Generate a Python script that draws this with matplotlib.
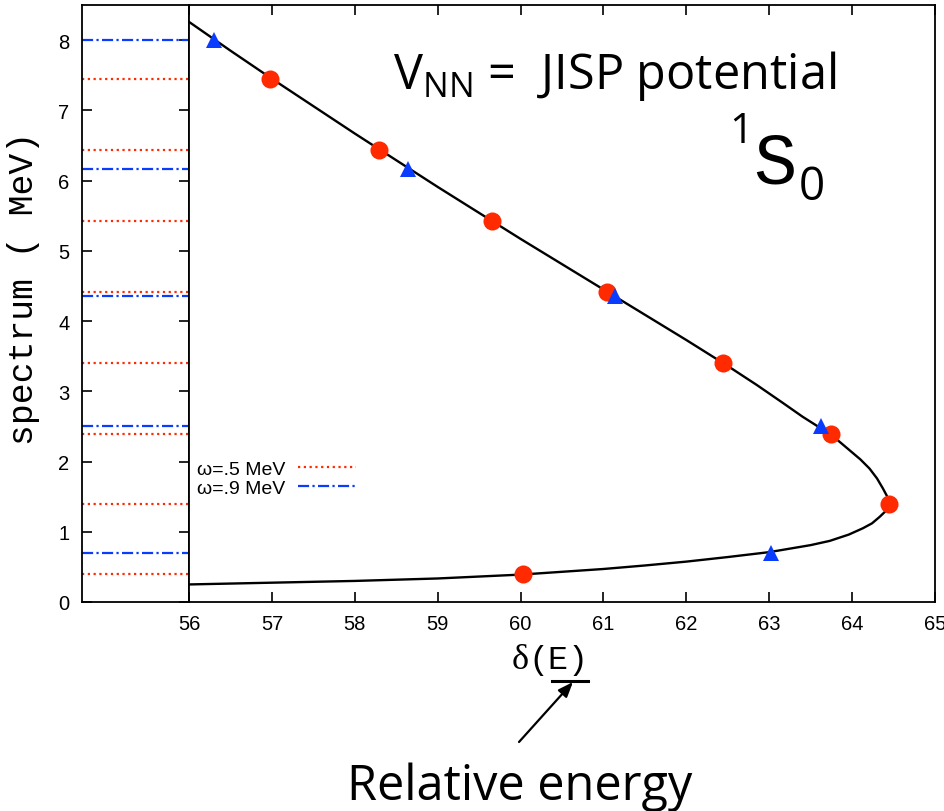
import matplotlib
matplotlib.use("Agg")
import matplotlib.pyplot as plt
from matplotlib.lines import Line2D

# ---------------- data ----------------
red_levels = [0.40, 1.39, 2.39, 3.40, 4.42, 5.42, 6.43, 7.45]      # omega = .5 MeV spectrum
blue_levels = [0.70, 2.51, 4.35, 6.16, 8.00]                         # omega = .9 MeV spectrum
red_delta = [60.03, 64.44, 63.74, 62.44, 61.04, 59.65, 58.29, 56.98]
blue_delta = [63.02, 63.62, 61.14, 58.64, 56.30]

curve_delta = [56.00, 56.50, 57.00, 57.50, 58.00, 58.50, 59.00, 59.50, 60.00,
               60.50, 61.00, 61.50, 62.00, 62.50, 62.85, 63.17, 63.40, 63.60,
               63.80, 63.97, 64.10, 64.21, 64.30, 64.37, 64.42, 64.44, 64.41,
               64.33, 64.24, 64.13, 63.96, 63.73, 63.50, 63.00, 62.50, 62.00,
               61.50, 61.00, 60.00, 59.00, 58.00, 57.00, 56.00]
curve_energy = [8.26, 7.85, 7.45, 7.06, 6.67, 6.29, 5.91, 5.54, 5.17,
                4.81, 4.45, 4.09, 3.73, 3.36, 3.09, 2.83, 2.64, 2.49,
                2.33, 2.16, 2.03, 1.90, 1.76, 1.62, 1.51, 1.40, 1.30,
                1.21, 1.12, 1.05, 0.96, 0.87, 0.81, 0.71, 0.64, 0.575,
                0.52, 0.47, 0.39, 0.335, 0.30, 0.275, 0.25]

x_ticks = [56, 57, 58, 59, 60, 61, 62, 63, 64, 65]
y_ticks = [0, 1, 2, 3, 4, 5, 6, 7, 8]
legend_labels = ["ω=.5 MeV", "ω=.9 MeV"]

RED = "#ff2a00"
BLUE = "#0a3cff"

W, H = 945, 812
fig = plt.figure(figsize=(W / 100, H / 100), dpi=100)
plt.rcParams["mathtext.fontset"] = "custom"
plt.rcParams["mathtext.rm"] = "Open Sans"

def fx(px):
    return px / W

def fy(py):
    return 1 - py / H

left_px, split_px, right_px = 82, 189, 935
top_px, bot_px = 6, 603

ax1 = fig.add_axes([fx(left_px), fy(bot_px), (split_px - left_px) / W, (bot_px - top_px) / H])
ax2 = fig.add_axes([fx(split_px), fy(bot_px), (right_px - split_px) / W, (bot_px - top_px) / H],
                   sharey=ax1)

# left panel: spectra as horizontal lines
ax1.set_xlim(54.7, 56)
ax1.set_ylim(0, 8.5)
red_style = (0, (1, 1.6))
blue_style = (0, (5, 1.5, 1, 1.5))
ax1.hlines(red_levels, 54.7, 56, colors=RED, linestyles=[red_style], linewidth=1.6)
ax1.hlines(blue_levels, 54.7, 56, colors=BLUE, linestyles=[blue_style], linewidth=1.6)
ax1.set_xticks([])
ax1.set_yticks(y_ticks)
ax1.tick_params(axis="y", direction="in", left=True, right=True, length=7, width=1.2,
                pad=9, labelsize=14.5)
for lab in ax1.get_yticklabels():
    lab.set_family("Liberation Sans")
for s in ax1.spines.values():
    s.set_linewidth(1.3)

# main panel
ax2.set_xlim(56, 65)
ax2.plot(curve_delta, curve_energy, color="black", lw=1.7, zorder=2,
         solid_joinstyle="round")
ax2.plot(red_delta, red_levels, "o", color=RED, markersize=13, markeredgewidth=0, zorder=3)
ax2.plot(blue_delta, blue_levels, "^", color=BLUE, markersize=12, markeredgewidth=0, zorder=4)
ax2.set_xticks(x_ticks)
ax2.tick_params(axis="x", direction="in", top=True, bottom=True, length=7, width=1.2,
                pad=9, labelsize=14.5)
ax2.tick_params(axis="y", left=False, right=False, labelleft=False)
for lab in ax2.get_xticklabels():
    lab.set_family("Liberation Sans")
for s in ax2.spines.values():
    s.set_linewidth(1.3)

handles = [Line2D([], [], color=RED, linestyle=red_style, lw=1.6),
           Line2D([], [], color=BLUE, linestyle=blue_style, lw=1.6)]
leg = ax2.legend(handles, legend_labels, loc="upper left",
                 bbox_to_anchor=(fx(197), fy(461)), bbox_transform=fig.transFigure,
                 frameon=False, markerfirst=False, handlelength=3.0, handletextpad=0.65,
                 labelspacing=0.1, borderpad=0, borderaxespad=0,
                 prop=dict(family="Liberation Sans", size=14))

# axis labels
fig.text(fx(24), fy(288), "spectrum ( MeV)", rotation=90, ha="center", va="center",
         family="Liberation Mono", fontsize=25)
fig.text(fx(529), fy(669), "δ", ha="right", va="baseline", family="Liberation Serif", fontsize=26)
fig.text(fx(528), fy(669), "(E)", ha="left", va="baseline", family="Liberation Mono", fontsize=24)

# annotations in the plot
fig.text(fx(393), fy(89), r"V$_{\mathrm{NN}}$ =  JISP potential", ha="left", va="baseline",
         family="Open Sans", fontsize=35)
fig.text(fx(729), fy(143), "1", ha="left", va="baseline", family="Open Sans", fontsize=30)
fig.text(fx(753), fy(183), "S", ha="left", va="baseline", family="Liberation Mono", fontsize=52)
fig.text(fx(799), fy(200), "0", ha="left", va="baseline", family="Open Sans", fontsize=33)

# underline + arrow + caption below the axis
fig.add_artist(Line2D([fx(552), fx(588)], [fy(682), fy(682)], color="black", lw=2.2,
                      transform=fig.transFigure))
ax2.annotate("", xy=(fx(573), fy(683)), xycoords="figure fraction",
             xytext=(fx(519), fy(743)), textcoords="figure fraction",
             arrowprops=dict(arrowstyle="-|>,head_length=0.9,head_width=0.35", color="black",
                             lw=1.6, shrinkA=0, shrinkB=0))
fig.text(fx(520), fy(800), "Relative energy", ha="center", va="baseline",
         family="Open Sans", fontsize=35)

fig.savefig("out.png", dpi=100)
